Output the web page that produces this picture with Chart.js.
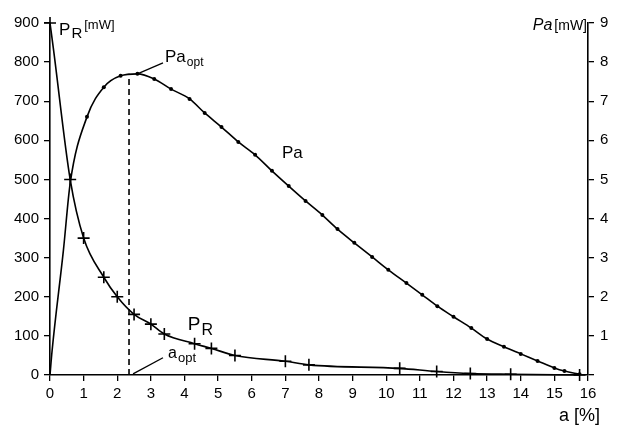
<!DOCTYPE html>
<html><head><meta charset="utf-8">
<script src="https://cdn.jsdelivr.net/npm/chart.js@4/dist/chart.umd.min.js"></script>
<style>html,body{margin:0;padding:0;background:#fff}#wrap{width:623px;height:428px}</style>
</head><body><div id="wrap"><canvas id="c" width="623" height="428"></canvas></div>
<script>
// P_R curve (left axis, mW)
const prX = [0, 0.1, 0.6, 1.0, 1.6, 2.0, 2.5, 3.0, 3.4, 4.3, 4.8, 5.5, 7.0, 7.7, 10.4, 11.5, 12.5, 13.7, 15.75];
const prY = [900, 835, 500, 350, 250, 200, 155, 130, 105, 80, 68, 50, 35, 26, 17, 9, 4, 2, 0];
// Pa curve (right axis, mW)
const paX = [0, 0.06, 0.4, 0.6, 1.1, 1.6, 2.1, 2.6, 3.1, 3.6, 4.15, 4.6, 5.1, 5.6, 6.1, 6.6, 7.1, 7.6, 8.1, 8.55, 9.05, 9.58, 10.06, 10.6, 11.07, 11.52, 12.0, 12.53, 13.0, 13.5, 14.0, 14.5, 15.0, 15.3, 15.75];
const paY = [0, 0.6, 3.2, 4.9, 6.6, 7.36, 7.65, 7.7, 7.57, 7.31, 7.06, 6.7, 6.34, 5.96, 5.63, 5.22, 4.83, 4.45, 4.09, 3.73, 3.38, 3.02, 2.69, 2.35, 2.05, 1.76, 1.49, 1.2, 0.92, 0.72, 0.54, 0.36, 0.18, 0.1, 0.02];
// optimum
const aOpt = 2.35;
const paOptLeft = 770;
// leader lines
const leadPaOptX = [2.6, 3.36], leadPaOptY = [770, 798];
const leadAOptX = [2.47, 3.36], leadAOptY = [3, 44];
// tick settings
const xTickMin = 0, xTickMax = 16, xStep = 1;
const yLeftMax = 900, yLeftStep = 100;
const yRightMax = 9, yRightStep = 1;

const FONT = '"Liberation Sans", Arial, sans-serif';
const pts = (xs, ys) => xs.map((x, i) => ({x, y: ys[i]}));

const textPlugin = {
  id: 'texts',
  afterDatasetsDraw(chart) {
    const ctx = chart.ctx, sx = chart.scales.x, sy = chart.scales.y;
    const X = v => sx.getPixelForValue(v), Y = v => sy.getPixelForValue(v);
    ctx.save();
    ctx.fillStyle = '#000';
    ctx.textBaseline = 'alphabetic';
    ctx.textAlign = 'left';
    function sub(x, y, big, bigSize, small, smallSize, dy, style) {
      ctx.font = (style || '') + ' ' + bigSize + 'px ' + FONT;
      ctx.fillText(big, x, y);
      const w = ctx.measureText(big).width;
      ctx.font = (style || '') + ' ' + smallSize + 'px ' + FONT;
      ctx.fillText(small, x + w + 1, y + dy);
      return x + w + 1 + ctx.measureText(small).width;
    }
    // top-left axis label P_R [mW]
    let e = sub(X(0.27), Y(869), 'P', 17, 'R', 15, 3);
    ctx.font = '13px ' + FONT;
    ctx.fillText('[mW]', e + 2, Y(869) - 6);
    // Pa_opt
    sub(X(3.42), Y(800), 'Pa', 17, 'opt', 12, 4);
    // a_opt
    sub(X(3.51), Y(43), 'a', 16, 'opt', 13, 4);
    // Pa label
    ctx.font = '17px ' + FONT;
    ctx.fillText('Pa', X(6.9), Y(555));
    // P_R label
    sub(X(4.1), Y(115), 'P', 19, 'R', 16, 5);
    // right axis label
    ctx.textAlign = 'right';
    ctx.font = '14px ' + FONT;
    ctx.fillText('[mW]', sx.right - 1, Y(882));
    const w2 = ctx.measureText('[mW]').width;
    ctx.font = 'italic 16px ' + FONT;
    ctx.fillText('Pa', sx.right - w2 - 3, Y(882));
    // x axis title
    ctx.font = '18px ' + FONT;
    ctx.fillText('a [%]', sx.right + 12, chart.height - 7);
    ctx.restore();
  }
};

new Chart(document.getElementById('c'), {
  type: 'line',
  data: {
    datasets: [
      {
        data: pts(prX, prY), yAxisID: 'y', borderColor: '#000', borderWidth: 1.6, clip: false,
        pointStyle: 'cross', pointRadius: prX.map(x => x > 0 && x < 0.3 ? 0 : 6), pointBorderWidth: 1.6, pointBorderColor: '#000',
        cubicInterpolationMode: 'monotone', fill: false
      },
      {
        data: pts(paX, paY), yAxisID: 'y2', borderColor: '#000', borderWidth: 1.6,
        pointStyle: 'circle', pointRadius: paX.map(x => x < 1 ? 0 : 2), pointBackgroundColor: '#000', pointBorderWidth: 0,
        cubicInterpolationMode: 'monotone', fill: false
      },
      {
        data: pts([aOpt, aOpt], [0, paOptLeft]), yAxisID: 'y', borderColor: '#000', borderWidth: 1.6,
        borderDash: [6, 4], pointRadius: 0, fill: false
      },
      {
        data: pts(leadPaOptX, leadPaOptY), yAxisID: 'y', borderColor: '#000', borderWidth: 1.3, pointRadius: 0, fill: false
      },
      {
        data: pts(leadAOptX, leadAOptY), yAxisID: 'y', borderColor: '#000', borderWidth: 1.3, pointRadius: 0, fill: false
      }
    ]
  },
  options: {
    responsive: false, animation: false, devicePixelRatio: 1,
    layout: {padding: {top: 23, left: 0, right: 0, bottom: 0}},
    plugins: {legend: {display: false}, tooltip: {enabled: false}},
    scales: {
      x: {
        type: 'linear', position: 'bottom', min: xTickMin, max: xTickMax,
        ticks: {stepSize: xStep, color: '#000', font: {size: 15, family: FONT}, padding: 4, maxRotation: 0},
        grid: {display: true, drawOnChartArea: false, drawTicks: true, tickLength: 6, color: '#000', lineWidth: 1.3},
        border: {display: true, color: '#000', width: 1.6},
        afterFit: s => { s.height = 53; }
      },
      y: {
        type: 'linear', position: 'left', min: 0, max: yLeftMax,
        ticks: {stepSize: yLeftStep, color: '#000', font: {size: 15, family: FONT}, padding: 5},
        grid: {display: true, drawOnChartArea: false, drawTicks: true, tickLength: 6, color: '#000', lineWidth: 1.3},
        border: {display: true, color: '#000', width: 1.6},
        afterFit: s => { s.width = 50; }
      },
      y2: {
        type: 'linear', position: 'right', min: 0, max: yRightMax,
        ticks: {stepSize: yRightStep, color: '#000', font: {size: 15, family: FONT}, padding: 6,
                callback: v => v === 0 ? '' : v},
        grid: {display: true, drawOnChartArea: false, drawTicks: true, tickLength: 6, color: '#000', lineWidth: 1.3},
        border: {display: true, color: '#000', width: 1.6},
        afterFit: s => { s.width = 35; }
      }
    }
  },
  plugins: [textPlugin]
});
</script>
</body></html>
